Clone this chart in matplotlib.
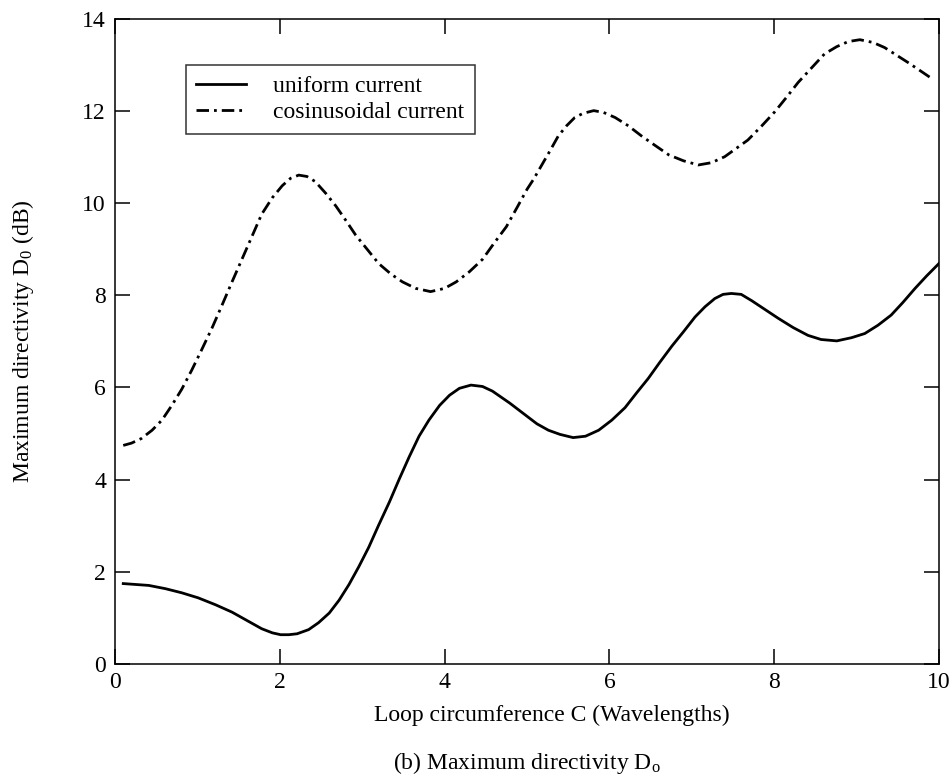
import matplotlib

matplotlib.use("Agg")
import matplotlib.pyplot as plt

plt.rcParams["font.family"] = ["Liberation Serif", "DejaVu Serif"]
plt.rcParams["mathtext.fontset"] = "custom"
plt.rcParams["mathtext.rm"] = "Liberation Serif"
plt.rcParams["mathtext.it"] = "Liberation Serif:italic"

FONT_SIZE = 17

# uniform current (solid line)
c_uniform = [0.10, 0.41, 0.61, 0.81, 1.01, 1.22, 1.42, 1.62, 1.78, 1.91, 2.01,
             2.11, 2.21, 2.35, 2.47, 2.60, 2.72, 2.84, 2.96, 3.08, 3.20, 3.33,
             3.45, 3.57, 3.69, 3.81, 3.94, 4.06, 4.18, 4.32, 4.46, 4.58, 4.79,
             5.01, 5.12, 5.26, 5.40, 5.56, 5.71, 5.87, 6.03, 6.19, 6.33, 6.47,
             6.61, 6.76, 6.90, 7.04, 7.16, 7.28, 7.38, 7.48, 7.60, 7.73, 7.89,
             8.05, 8.23, 8.41, 8.57, 8.76, 8.94, 9.10, 9.26, 9.42, 9.56, 9.71,
             9.85, 10.0]
d_uniform = [1.74, 1.70, 1.63, 1.54, 1.43, 1.28, 1.12, 0.92, 0.76, 0.67, 0.63,
             0.63, 0.65, 0.74, 0.89, 1.10, 1.38, 1.72, 2.11, 2.53, 3.01, 3.51,
             4.01, 4.49, 4.94, 5.29, 5.61, 5.83, 5.98, 6.05, 6.02, 5.92, 5.66,
             5.36, 5.21, 5.07, 4.98, 4.91, 4.94, 5.07, 5.29, 5.56, 5.88, 6.19,
             6.54, 6.90, 7.21, 7.53, 7.75, 7.93, 8.02, 8.04, 8.02, 7.88, 7.69,
             7.50, 7.30, 7.13, 7.04, 7.01, 7.08, 7.17, 7.35, 7.57, 7.84, 8.15,
             8.42, 8.69]

# cosinusoidal current (dash-dot line)
c_cosine = [0.10, 0.20, 0.32, 0.45, 0.57, 0.69, 0.81, 0.93, 1.05, 1.18, 1.30,
            1.42, 1.54, 1.66, 1.78, 1.91, 2.03, 2.13, 2.23, 2.33, 2.43, 2.56,
            2.68, 2.80, 2.92, 3.06, 3.20, 3.35, 3.49, 3.65, 3.83, 4.00, 4.14,
            4.30, 4.46, 4.60, 4.75, 4.89, 5.00, 5.08, 5.18, 5.28, 5.38, 5.48,
            5.58, 5.68, 5.81, 5.93, 6.07, 6.23, 6.39, 6.55, 6.72, 6.90, 7.08,
            7.24, 7.40, 7.54, 7.68, 7.85, 8.01, 8.15, 8.29, 8.45, 8.61, 8.76,
            8.90, 9.04, 9.20, 9.34, 9.48, 9.62, 9.77, 9.91]
d_cosine = [4.74, 4.79, 4.89, 5.07, 5.29, 5.61, 5.96, 6.37, 6.81, 7.30, 7.79,
            8.29, 8.78, 9.27, 9.76, 10.12, 10.38, 10.54, 10.61, 10.58, 10.47, 10.21,
            9.94, 9.63, 9.31, 9.00, 8.69, 8.46, 8.29, 8.15, 8.08, 8.15, 8.29,
            8.51, 8.78, 9.13, 9.49, 9.94, 10.30, 10.52, 10.83, 11.14, 11.46, 11.68,
            11.86, 11.95, 12.01, 11.97, 11.86, 11.68, 11.46, 11.26, 11.05, 10.92, 10.83,
            10.88, 11.01, 11.19, 11.37, 11.68, 11.99, 12.30, 12.62, 12.93, 13.24, 13.40,
            13.51, 13.55, 13.49, 13.38, 13.22, 13.06, 12.88, 12.71]

x_ticks = [0, 2, 4, 6, 8, 10]
y_ticks = [0, 2, 4, 6, 8, 10, 12, 14]

fig = plt.figure(figsize=(9.52, 7.78), dpi=100)
ax = fig.add_axes([0.1208, 0.1469, 0.8655, 0.8287])

ax.plot(c_uniform, d_uniform, color="black", lw=2.0, label="uniform current",
        solid_joinstyle="round")
ax.plot(c_cosine, d_cosine, color="black", lw=2.0,
        dashes=(4.5, 1.8, 1.0, 1.8), label="cosinusoidal current")

ax.set_xlim(0, 10)
ax.set_ylim(0, 14)
ax.set_xticks(x_ticks)
ax.set_yticks(y_ticks)
ax.tick_params(direction="in", length=10.5, width=1.1, top=True, right=True,
               labelsize=FONT_SIZE, pad=6)
ax.tick_params(axis="y", pad=6.5)
for s in ax.spines.values():
    s.set_linewidth(1.1)

ax.set_xlabel("Loop circumference C (Wavelengths)", fontsize=FONT_SIZE)
ax.xaxis.set_label_coords(0.530, -0.064)
ax.set_ylabel("Maximum directivity D$_0$ (dB)", fontsize=FONT_SIZE, labelpad=33)

leg = ax.legend(loc="upper left", bbox_to_anchor=(0.086, 0.929), fontsize=FONT_SIZE,
                frameon=True, fancybox=False, edgecolor="black", handlelength=2.08,
                borderaxespad=0, labelspacing=0.2, borderpad=0.45, handletextpad=1.15)
leg.get_frame().set_linewidth(1.1)

fig.text(0.5536, 0.012, "(b) Maximum directivity D$_\\mathrm{o}$", ha="center",
         va="baseline", fontsize=FONT_SIZE)

fig.savefig("out.png", dpi=100)
